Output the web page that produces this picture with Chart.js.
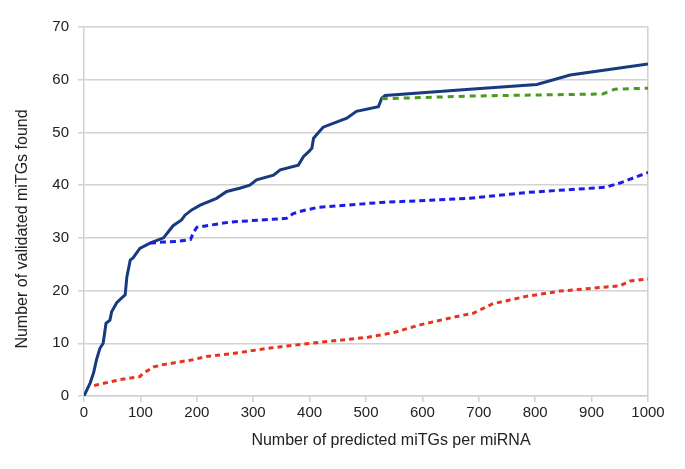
<!DOCTYPE html>
<html>
<head>
<meta charset="utf-8">
<script src="https://cdn.jsdelivr.net/npm/chart.js@4.4.0/dist/chart.umd.min.js"></script>
<style>
  html, body { margin: 0; padding: 0; background: #fff; }
  #wrap { width: 685px; height: 469px; }
</style>
</head>
<body>
<div id="wrap"><canvas id="chLines"></canvas></div>
<script>
// values
var navyX = [0, 11, 17, 22, 28, 34, 39, 46, 49, 58, 67, 73, 76, 82, 87, 99, 117, 141, 152, 158, 173, 179, 191, 206, 235, 253, 276, 294, 306, 336, 348, 380, 389, 398, 404, 407, 415, 424, 466, 483, 522, 528, 534, 684, 803, 862, 1000];
var navyY = [0, 2.5, 4.4, 6.8, 9, 10, 13.8, 14.4, 16, 17.7, 18.6, 19.2, 22.6, 25.8, 26.2, 28, 29, 30, 31.5, 32.3, 33.4, 34.3, 35.3, 36.2, 37.5, 38.8, 39.4, 40, 41, 41.9, 42.9, 43.8, 45.4, 46.3, 47, 48.9, 49.9, 51, 52.7, 54, 54.9, 56.5, 57, 58.2, 59.1, 60.9, 63];
var greenX = [528, 534, 684, 920, 941, 1000];
var greenY = [56.5, 56.4, 56.9, 57.3, 58.2, 58.4];
var blueX = [117, 141, 164, 189, 194, 200, 259, 359, 371, 386, 415, 525, 684, 784, 925, 950, 1000];
var blueY = [29, 29.2, 29.3, 29.7, 31, 32, 33, 33.7, 34.6, 35.1, 35.8, 36.7, 37.5, 38.6, 39.6, 40.4, 42.4];
var redX = [18, 64, 99, 105, 123, 138, 194, 217, 259, 330, 377, 436, 501, 548, 596, 666, 690, 725, 784, 844, 950, 968, 1000];
var redY = [2, 3.1, 3.7, 4.3, 5.5, 5.9, 6.9, 7.5, 8.0, 9.1, 9.7, 10.4, 11.1, 12.0, 13.5, 15.2, 15.7, 17.5, 18.9, 19.9, 20.9, 21.8, 22.2];

var xTitle = 'Number of predicted miTGs per miRNA';
var yTitle = 'Number of validated miTGs found';

function pts(xs, ys) {
  return xs.map(function (x, i) { return { x: x, y: ys[i] }; });
}

var gridColor = '#d2d2d2';
var font = { family: 'Liberation Sans, Arial, sans-serif', size: 15 };

// axis titles placed by hand, the original is not centred on the plot
var titlesPlugin = {
  id: 'titles',
  afterDraw: function (chart) {
    var c = chart.ctx;
    c.save();
    c.fillStyle = '#222';
    c.font = '16px Liberation Sans, Arial, sans-serif';
    c.textAlign = 'center';
    c.textBaseline = 'middle';
    c.fillText(xTitle, 391, 441);
    c.translate(23, 229);
    c.rotate(-Math.PI / 2);
    c.fillText(yTitle, 0, 0);
    c.restore();
  }
};

new Chart(document.getElementById('chLines'), {
  type: 'line',
  data: {
    datasets: [
      { data: pts(redX, redY), borderColor: '#e8321e', borderWidth: 3, borderDash: [5, 4] },
      { data: pts(blueX, blueY), borderColor: '#1c1cea', borderWidth: 3, borderDash: [6, 4] },
      { data: pts(greenX, greenY), borderColor: '#4a9a1e', borderWidth: 3, borderDash: [6, 5] },
      { data: pts(navyX, navyY), borderColor: '#183a7e', borderWidth: 3 }
    ]
  },
  options: {
    responsive: true,
    maintainAspectRatio: false,
    animation: false,
    layout: { padding: { top: 27, left: 0, right: 0, bottom: 0 } },
    elements: { point: { radius: 0 }, line: { tension: 0 } },
    plugins: { legend: { display: false }, tooltip: { enabled: false } },
    scales: {
      x: {
        type: 'linear',
        min: 0, max: 1000,
        afterFit: function (s) { s.height = 73; },
        ticks: {
          stepSize: 100, color: '#222', font: font, padding: 2, maxRotation: 0,
          callback: function (v) { return String(v); }
        },
        grid: { drawOnChartArea: false, color: gridColor, tickLength: 6, lineWidth: 1.5 },
        border: { color: gridColor, width: 1.5 }
      },
      y: {
        min: 0, max: 70,
        afterFit: function (s) { s.width = 84; },
        ticks: { stepSize: 10, color: '#222', font: font, padding: 9 },
        grid: { color: gridColor, tickLength: 6, lineWidth: 1.5 },
        border: { color: gridColor, width: 1.5 }
      },
      y2: {
        position: 'right',
        min: 0, max: 70,
        afterFit: function (s) { s.width = 37; },
        ticks: { display: false },
        grid: { drawOnChartArea: false, drawTicks: false },
        border: { color: gridColor, width: 1.5 }
      }
    }
  },
  plugins: [titlesPlugin]
});
</script>
</body>
</html>
